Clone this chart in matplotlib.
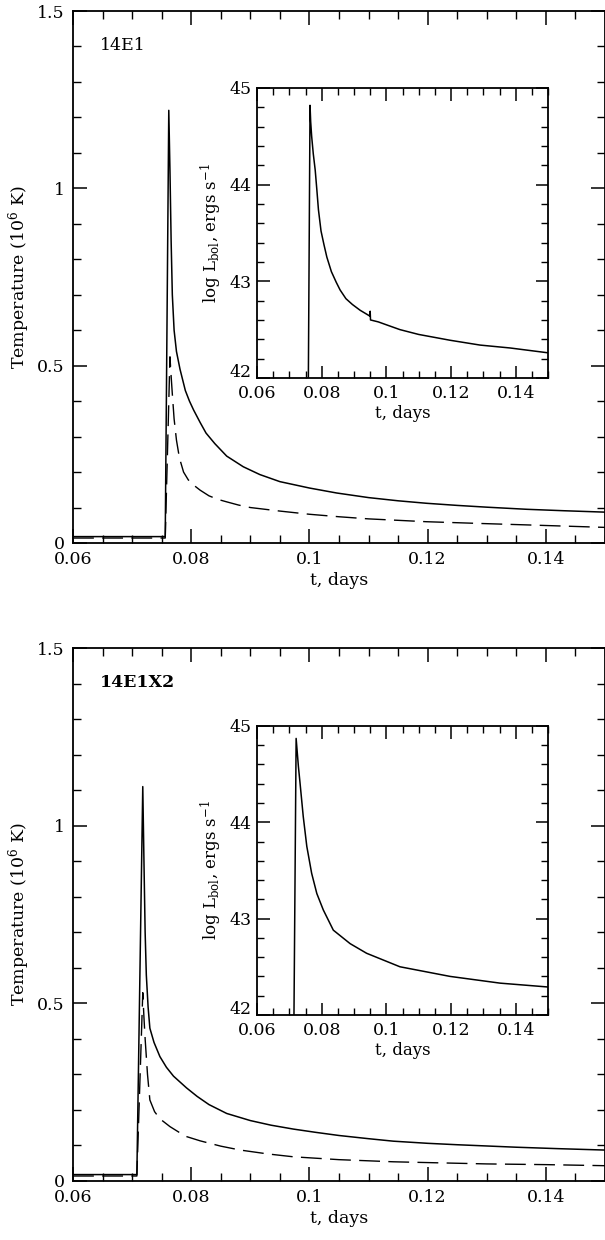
import numpy as np
import matplotlib
matplotlib.use('Agg')
import matplotlib.pyplot as plt
from matplotlib.ticker import MultipleLocator, FuncFormatter

# Plain black-on-white journal style
plt.rcParams['font.family'] = ['DejaVu Serif']
plt.rcParams['mathtext.fontset'] = 'dejavuserif'
plt.rcParams['font.size'] = 12
plt.rcParams['axes.linewidth'] = 1.3
plt.rcParams['xtick.direction'] = 'in'
plt.rcParams['ytick.direction'] = 'in'
plt.rcParams['xtick.top'] = True
plt.rcParams['ytick.right'] = True

# ---- model 14E1 ----
e1_t_solid = [0.060, 0.0756, 0.0762, 0.0764, 0.0766, 0.0768, 0.0771, 0.0775, 0.0781, 0.0790,
              0.0797, 0.0804, 0.0815, 0.0825, 0.0840, 0.0860, 0.0888, 0.0916, 0.0950, 0.1000,
              0.1046, 0.1100, 0.1150, 0.1198, 0.1250, 0.1300, 0.1368, 0.1430, 0.1500]
e1_T_solid = [0.018, 0.018, 1.22, 1.05, 0.85, 0.70, 0.60, 0.54, 0.49, 0.43,
              0.40, 0.375, 0.34, 0.31, 0.28, 0.245, 0.215, 0.193, 0.173, 0.155,
              0.141, 0.128, 0.119, 0.112, 0.106, 0.101, 0.095, 0.091, 0.087]
e1_t_dash = [0.060, 0.0756, 0.0764, 0.0766, 0.0768, 0.0771, 0.0775, 0.0780, 0.0787, 0.0795,
             0.0805, 0.0815, 0.0830, 0.0845, 0.0860, 0.0880, 0.0900, 0.0950, 0.1000, 0.1050,
             0.1100, 0.1198, 0.1290, 0.1368, 0.1500]
e1_T_dash = [0.014, 0.014, 0.525, 0.47, 0.42, 0.35, 0.29, 0.24, 0.20, 0.178,
             0.162, 0.149, 0.133, 0.123, 0.116, 0.107, 0.100, 0.090, 0.081, 0.074,
             0.068, 0.060, 0.055, 0.051, 0.044]
e1_t_lum = [0.060, 0.0757, 0.0764, 0.0766, 0.0769, 0.0774, 0.0780, 0.0785, 0.0790, 0.0798,
            0.0807, 0.0816, 0.0830, 0.0845, 0.0857, 0.0875, 0.0895, 0.0919, 0.0949, 0.0950,
            0.0951, 0.0975, 0.1000, 0.1042, 0.1100, 0.1197, 0.1290, 0.1383, 0.1500]
e1_L_lum = [41.0, 41.0, 44.82, 44.65, 44.50, 44.32, 44.15, 43.95, 43.74, 43.52,
            43.38, 43.25, 43.10, 42.99, 42.91, 42.82, 42.76, 42.70, 42.64, 42.69,
            42.60, 42.58, 42.55, 42.50, 42.45, 42.39, 42.34, 42.31, 42.26]

# ---- model 14E1X2 ----
x2_t_solid = [0.060, 0.0708, 0.0718, 0.0720, 0.0722, 0.0724, 0.0727, 0.0730, 0.0737, 0.0747,
              0.0758, 0.0770, 0.0792, 0.0810, 0.0830, 0.0860, 0.0900, 0.0935, 0.0973, 0.1010,
              0.1050, 0.1100, 0.1142, 0.1200, 0.1250, 0.1350, 0.1420, 0.1500]
x2_T_solid = [0.018, 0.018, 1.11, 0.90, 0.70, 0.58, 0.49, 0.43, 0.39, 0.35,
              0.32, 0.295, 0.262, 0.238, 0.215, 0.190, 0.170, 0.157, 0.146, 0.137,
              0.128, 0.119, 0.112, 0.106, 0.102, 0.095, 0.091, 0.087]
x2_t_dash = [0.060, 0.0708, 0.0718, 0.0720, 0.0722, 0.0726, 0.0730, 0.0738, 0.0747, 0.0764,
             0.0790, 0.0815, 0.0850, 0.0883, 0.0930, 0.0973, 0.1050, 0.1142, 0.1220, 0.1300,
             0.1400, 0.1500]
x2_T_dash = [0.014, 0.014, 0.53, 0.46, 0.40, 0.30, 0.228, 0.195, 0.175, 0.153,
             0.126, 0.113, 0.098, 0.087, 0.076, 0.068, 0.060, 0.054, 0.051, 0.048,
             0.046, 0.043]
x2_t_lum = [0.060, 0.0712, 0.0721, 0.0728, 0.0733, 0.0743, 0.0754, 0.0769, 0.0785, 0.0805,
            0.0836, 0.0888, 0.0939, 0.1042, 0.1197, 0.1352, 0.1500]
x2_L_lum = [41.0, 41.0, 44.87, 44.58, 44.41, 44.06, 43.75, 43.47, 43.26, 43.09,
            42.88, 42.74, 42.64, 42.50, 42.40, 42.33, 42.29]

panel_names = ['14E1', '14E1X2']
panel_bold = ['normal', 'bold']
inset_yticks = [42, 43, 44, 45]


def trim(v, pos):
    # 0.10 -> 0.1, 1.0 -> 1
    return '%g' % v


fig = plt.figure(figsize=(6.05, 12.4), dpi=100)

# main panels (left, bottom, width, height) in figure fraction
main_boxes = [[0.1207, 0.5621, 0.8793, 0.4290], [0.1207, 0.0476, 0.8793, 0.4298]]
inset_boxes = [[0.4248, 0.6952, 0.4810, 0.2339], [0.4248, 0.1815, 0.4810, 0.2331]]

data = [(e1_t_solid, e1_T_solid, e1_t_dash, e1_T_dash, e1_t_lum, e1_L_lum),
        (x2_t_solid, x2_T_solid, x2_t_dash, x2_T_dash, x2_t_lum, x2_L_lum)]

for i in range(2):
    ts, Ts, td, Td, tl, Ll = data[i]

    # Temperature panel
    ax = fig.add_axes(main_boxes[i])
    ax.plot(ts, Ts, color='black', linewidth=1.1)
    ax.plot(td, Td, color='black', linewidth=1.0, dashes=(15, 6))
    ax.set_xlim(0.06, 0.15)
    ax.set_ylim(0, 1.5)
    ax.xaxis.set_major_locator(MultipleLocator(0.02))
    ax.xaxis.set_minor_locator(MultipleLocator(0.005))
    ax.yaxis.set_major_locator(MultipleLocator(0.5))
    ax.yaxis.set_minor_locator(MultipleLocator(0.1))
    ax.xaxis.set_major_formatter(FuncFormatter(trim))
    ax.yaxis.set_major_formatter(FuncFormatter(trim))
    ax.tick_params(which='major', length=10, width=1.1, pad=6, labelsize=12.5)
    ax.tick_params(which='minor', length=5.5, width=1.0)
    ax.set_xlabel('t, days', fontsize=12.5, labelpad=3)
    ax.set_ylabel('Temperature (10$^6$ K)', fontsize=12.5, labelpad=4)
    ax.text(0.05, 0.935, panel_names[i], transform=ax.transAxes, fontsize=12.5,
            fontweight=panel_bold[i], va='center', ha='left')

    # Luminosity inset
    ins = fig.add_axes(inset_boxes[i])
    ins.plot(tl, Ll, color='black', linewidth=1.1)
    ins.set_xlim(0.06, 0.15)
    ins.set_ylim(inset_yticks[0], inset_yticks[-1])
    ins.xaxis.set_major_locator(MultipleLocator(0.02))
    ins.xaxis.set_minor_locator(MultipleLocator(0.005))
    ins.yaxis.set_minor_locator(MultipleLocator(0.2))
    ins.xaxis.set_major_formatter(FuncFormatter(trim))
    # lowest label ("42") is drawn separately, lifted a little so it clears "0.06"
    ins.set_yticks(inset_yticks, [''] + [str(v) for v in inset_yticks[1:]])
    ins.annotate(str(inset_yticks[0]), xy=(0, 0), xycoords='axes fraction',
                 xytext=(-4, 4), textcoords='offset points',
                 ha='right', va='center', fontsize=12.5)
    ins.tick_params(axis='y', which='major', length=9, width=1.1, pad=4, labelsize=12.5)
    ins.tick_params(axis='x', which='major', length=9, width=1.1, pad=5, labelsize=12.5)
    ins.tick_params(which='minor', length=5, width=1.0)
    ins.set_xlabel('t, days', fontsize=12, labelpad=2)
    ins.set_ylabel(r'log L$_{\rm bol}$, ergs s$^{-1}$', fontsize=12, labelpad=4)

fig.savefig('out.png', dpi=100, facecolor='white')
